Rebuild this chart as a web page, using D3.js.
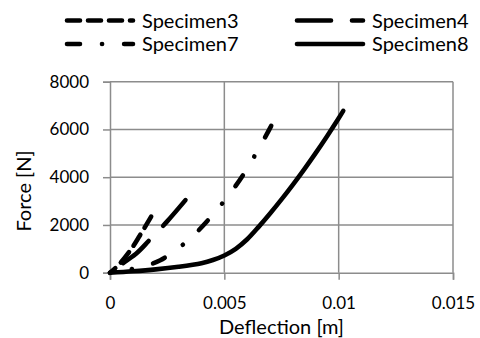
<!DOCTYPE html>
<html>
<head>
<meta charset="utf-8">
<script src="https://cdn.jsdelivr.net/npm/d3@7"></script>
<style>
  body { margin: 0; background: #fff; }
  svg { display: block; font-family: Lato, "Open Sans", sans-serif; }
</style>
</head>
<body>
<div id="chart"></div>
<script>
// deflection [m] / force [N]
const spec3X = [0, 0.0004, 0.0009, 0.0013, 0.0018];
const spec3Y = [0, 350, 950, 1550, 2350];

const spec4X = [0, 0.0006, 0.0012, 0.0017, 0.0025, 0.0033];
const spec4Y = [0, 420, 850, 1340, 2150, 3040];

const spec7X = [0, 0.0005, 0.0014, 0.0022, 0.0033, 0.0039, 0.0049, 0.0058, 0.0067, 0.00705];
const spec7Y = [0, 80, 250, 520, 1260, 1800, 2890, 4060, 5530, 6150];

const spec8X = [0, 0.001, 0.002, 0.003, 0.004, 0.0045, 0.005, 0.0055, 0.006, 0.0065, 0.007, 0.0075, 0.008, 0.0085, 0.009, 0.0095, 0.01, 0.0102];
const spec8Y = [0, 60, 140, 250, 400, 530, 720, 1000, 1400, 1920, 2480, 3070, 3690, 4340, 5020, 5730, 6470, 6780];

const seriesNames = ["Specimen3", "Specimen4", "Specimen7", "Specimen8"];
const xTicks = [0, 0.005, 0.01, 0.015];
const yTicks = [0, 2000, 4000, 6000, 8000];

const width = 480, height = 338;
const margin = { top: 81.7, right: 27, bottom: 65.3, left: 110 };

const svg = d3.select("#chart").append("svg")
    .attr("width", width)
    .attr("height", height);

const x = d3.scaleLinear().domain([0, 0.015]).range([margin.left, width - margin.right]);
const y = d3.scaleLinear().domain([0, 8000]).range([height - margin.bottom, margin.top]);

const gridColor = "#8c8c8c";

// gridlines
svg.append("g")
    .selectAll("line")
    .data(xTicks.slice(1))
    .enter().append("line")
    .attr("x1", d => x(d)).attr("x2", d => x(d))
    .attr("y1", y(0)).attr("y2", y(8000))
    .attr("stroke", gridColor).attr("stroke-width", 1.5);

svg.append("g")
    .selectAll("line")
    .data(yTicks.slice(1))
    .enter().append("line")
    .attr("x1", x(0)).attr("x2", x(0.015))
    .attr("y1", d => y(d)).attr("y2", d => y(d))
    .attr("stroke", gridColor).attr("stroke-width", 1.5);

// axes
const xAxis = svg.append("g")
    .attr("transform", `translate(0,${y(0)})`)
    .call(d3.axisBottom(x).tickValues(xTicks).tickFormat(d => String(+d.toFixed(3))).tickSize(7).tickPadding(17));

const yAxis = svg.append("g")
    .attr("transform", `translate(${x(0)},0)`)
    .call(d3.axisLeft(y).tickValues(yTicks).tickFormat(d => String(d)).tickSize(7).tickPadding(14));

[xAxis, yAxis].forEach(a => {
    a.select(".domain").attr("stroke", gridColor).attr("stroke-width", 1.5);
    a.selectAll(".tick line").attr("stroke", gridColor).attr("stroke-width", 1.5);
    a.selectAll("text").attr("fill", "#000").style("font-size", "17px").style("font-family", "Lato, sans-serif");
});

svg.append("text")
    .attr("x", (x(0) + x(0.015)) / 2)
    .attr("y", 334)
    .attr("text-anchor", "middle")
    .style("font-size", "20px")
    .text("Deflection [m]");

svg.append("text")
    .attr("transform", "translate(24,191) rotate(-90)")
    .attr("dy", "0.35em")
    .attr("text-anchor", "middle")
    .style("font-size", "20px")
    .text("Force [N]");

// series (drawn from the far end so every dashed line finishes on a dash)
const dashes = ["13 8", "34 21", "13 22 0.1 22", null];
const seriesData = [
    d3.zip(spec3X, spec3Y),
    d3.zip(spec4X, spec4Y),
    d3.zip(spec7X, spec7Y),
    d3.zip(spec8X, spec8Y)
];

const line = d3.line()
    .x(d => x(d[0]))
    .y(d => y(d[1]))
    .curve(d3.curveCatmullRom);

seriesData.forEach((pts, i) => {
    svg.append("path")
        .attr("d", line(pts.slice().reverse()))
        .attr("fill", "none")
        .attr("stroke", "#000")
        .attr("stroke-width", 4.6)
        .attr("stroke-linecap", "round")
        .attr("stroke-linejoin", "round")
        .attr("stroke-dasharray", dashes[i]);
});

// legend
const legendX = [67, 297];
const legendY = [20.5, 44];
seriesNames.forEach((name, i) => {
    const lx = legendX[i % 2], ly = legendY[Math.floor(i / 2)];
    svg.append("line")
        .attr("x1", lx).attr("x2", lx + 66)
        .attr("y1", ly).attr("y2", ly)
        .attr("stroke", "#000")
        .attr("stroke-width", 4.6)
        .attr("stroke-linecap", "round")
        .attr("stroke-dasharray", dashes[i]);
    svg.append("text")
        .attr("x", lx + 75)
        .attr("y", ly)
        .attr("dy", "0.35em")
        .style("font-size", "20px")
        .text(name);
});
</script>
</body>
</html>
